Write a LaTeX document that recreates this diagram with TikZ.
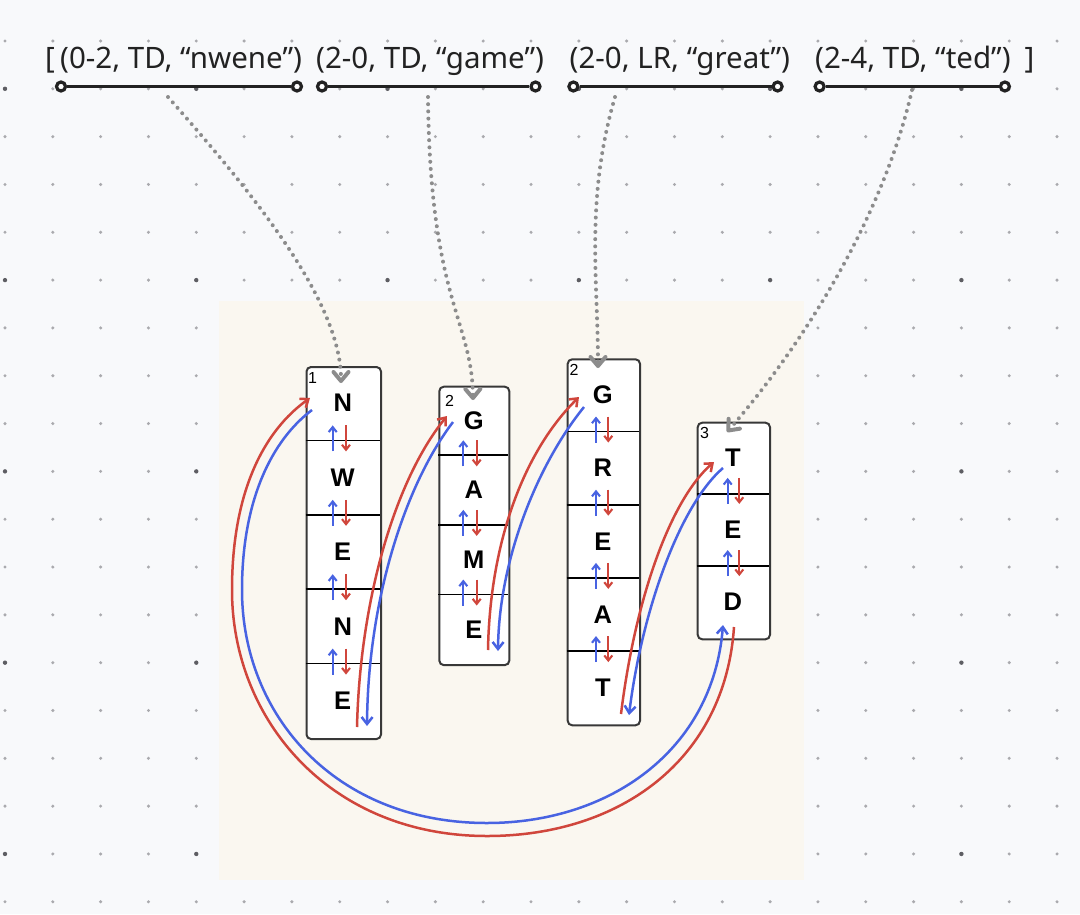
\documentclass[tikz,border=0pt]{standalone}
\usepackage{fontspec}
\setmainfont{Liberation Sans}
\newfontfamily\topfont{Noto Sans}
\usetikzlibrary{arrows.meta}
\definecolor{bgc}{HTML}{F8F9FB}
\definecolor{panelc}{HTML}{FAF7F0}
\definecolor{dotc}{HTML}{AAAAAE}
\definecolor{dotd}{HTML}{5E5E63}
\definecolor{redc}{HTML}{D0463C}
\definecolor{bluec}{HTML}{4863E2}
\definecolor{grayarr}{HTML}{8C8C8C}
\definecolor{inkc}{HTML}{222222}
\tikzset{
  toptext/.style={font=\topfont\fontsize{29.5}{29.5}\selectfont, text=inkc, inner sep=0, anchor=base west},
  endpt/.style={circle, draw=inkc, line width=3.2pt, fill=white, minimum size=9pt, inner sep=0},
  topline/.style={draw=inkc, line width=3.6pt},
  boxst/.style={draw=inkc!90, line width=2pt, fill=white, rounded corners=4.5pt, anchor=north west, inner sep=0},
  divider/.style={draw=black, line width=1.7pt},
  letter/.style={font=\fontsize{25.5}{25.5}\selectfont\bfseries, inner sep=0},
  lab/.style={font=\fontsize{16}{16}\selectfont, inner sep=0},
  smallblue/.style={draw=bluec, line width=2.1pt, -{Straight Barb[length=5pt,width=8pt]}},
  smallred/.style={draw=redc, line width=2.1pt, -{Straight Barb[length=5pt,width=8pt]}},
  redarr/.style={draw=redc, line width=2.5pt, -{Straight Barb[length=7pt,width=11pt]}},
  bluearr/.style={draw=bluec, line width=2.5pt, -{Straight Barb[length=7pt,width=11pt]}},
  dotarr/.style={draw=grayarr, line width=4pt, line cap=round, dash pattern=on 0pt off 7.2pt,
     -{Straight Barb[length=9pt,width=15pt,round]}},
}
\begin{document}
\begin{tikzpicture}[x=1pt,y=-1pt]
\useasboundingbox (0,0) rectangle (1080,914);
\fill[bgc] (0,0) rectangle (1080,914);
% dot grid
\foreach \i in {0,...,22}{
  \foreach \j in {0,...,18}{
    \pgfmathtruncatemacro\dk{and(mod(\i,4)==0,mod(\j,4)==1)}
    \ifnum\dk=1
      \fill[dotd] (5+47.82*\i,41+47.82*\j) circle[radius=2.2pt];
    \else
      \fill[dotc] (5+47.82*\i,41+47.82*\j) circle[radius=1.7pt];
    \fi
  }
}
% panel
\fill[panelc] (219,301) rectangle (804,880);

% top text
\node[toptext] (lb) at (45,68) {[};
\node[toptext] (t1) at (60,68) {(0-2, TD, “nwene”)};
\node[toptext] (t2) at (316,68) {(2-0, TD, “game”)};
\node[toptext] (t3) at (569.5,68) {(2-0, LR, “great”)};
\node[toptext] (t4) at (815,68) {(2-4, TD, “ted”)};
\node[toptext] (rb) at (1024.5,68) {]};

% top lines
\node[endpt] (l1a) at (61,86.5) {};
\node[endpt] (l1b) at (297,86.5) {};
\node[endpt] (l2a) at (322,86.5) {};
\node[endpt] (l2b) at (535.5,86.5) {};
\node[endpt] (l3a) at (573.4,86.5) {};
\node[endpt] (l3b) at (777.6,86.5) {};
\node[endpt] (l4a) at (819.6,86.5) {};
\node[endpt] (l4b) at (1004.9,86.5) {};
\draw[topline] (l1a) -- (l1b);
\draw[topline] (l2a) -- (l2b);
\draw[topline] (l3a) -- (l3b);
\draw[topline] (l4a) -- (l4b);

% boxes
\node[boxst, minimum width=74.5pt, minimum height=372pt] (b1) at (305.5,366) {};
\node[boxst, minimum width=70pt, minimum height=278.4pt] (b2) at (438.3,385.7) {};
\node[boxst, minimum width=72.3pt, minimum height=366pt] (b3) at (566.7,358.3) {};
\node[boxst, minimum width=72.3pt, minimum height=216.6pt] (b4) at (696.7,421.7) {};

% dividers
\foreach \d in {440.4,514.8,589.2,663.6}{\draw[divider] (305.5,\d) -- (380,\d);}
\foreach \d in {455.3,524.9,594.5}{\draw[divider] (438.3,\d) -- (508.3,\d);}
\foreach \d in {431.5,504.7,577.9,651.1}{\draw[divider] (566.7,\d) -- (639,\d);}
\foreach \d in {493.9,566.1}{\draw[divider] (696.7,\d) -- (769,\d);}

% labels
\node[lab] (lab1) at (312.5,377.5) {1};
\node[lab] (lab2) at (449.5,401) {2};
\node[lab] (lab3) at (574,369.5) {2};
\node[lab] (lab4) at (704.5,433) {3};

% letters
\node[letter] (n1a) at (342.75,403.2) {N};
\node[letter] (n1b) at (342.75,477.6) {W};
\node[letter] (n1c) at (342.75,552) {E};
\node[letter] (n1d) at (342.75,626.4) {N};
\node[letter] (n1e) at (342.75,700.8) {E};
\node[letter] (n2a) at (473.8,420.5) {G};
\node[letter] (n2b) at (473.8,490.1) {A};
\node[letter] (n2c) at (473.8,559.7) {M};
\node[letter] (n2d) at (473.8,629.3) {E};
\node[letter] (n3a) at (602.85,394.9) {G};
\node[letter] (n3b) at (602.85,468.1) {R};
\node[letter] (n3c) at (602.85,541.3) {E};
\node[letter] (n3d) at (602.85,614.5) {A};
\node[letter] (n3e) at (602.85,687.7) {T};
\node[letter] (n4a) at (732.85,457.8) {T};
\node[letter] (n4b) at (732.85,530) {E};
\node[letter] (n4c) at (732.85,602.2) {D};

% small up/down arrows
\foreach \d in {440.4,514.8,589.2,663.6}{
  \draw[smallblue] (332.7,\d+11) -- (332.7,\d-15);
  \draw[smallred] (346,\d-15) -- (346,\d+11);}
\foreach \d in {455.3,524.9,594.5}{
  \draw[smallblue] (463.3,\d+11) -- (463.3,\d-15);
  \draw[smallred] (476.7,\d-15) -- (476.7,\d+11);}
\foreach \d in {431.5,504.7,577.9,651.1}{
  \draw[smallblue] (596,\d+11) -- (596,\d-15);
  \draw[smallred] (608.3,\d-15) -- (608.3,\d+11);}
\foreach \d in {493.9,566.1}{
  \draw[smallblue] (727.7,\d+10) -- (727.7,\d-16);
  \draw[smallred] (739.3,\d-16) -- (739.3,\d+10);}

% link coordinates
\coordinate (ra1) at (357,727);   \coordinate (ra2) at (447,416);
\coordinate (ba1) at (453,422);   \coordinate (ba2) at (367,726);
\coordinate (rb1) at (488,650);   \coordinate (rb2) at (579,397);
\coordinate (bb1) at (584,407);   \coordinate (bb2) at (498,651);
\coordinate (rc1) at (621,714);   \coordinate (rc2) at (714,462);
\coordinate (bc1) at (723,468);   \coordinate (bc2) at (629,715);
\coordinate (rd1) at (734,627);   \coordinate (rd2) at (310,398);
\coordinate (bd1) at (312,410);   \coordinate (bd2) at (723,625);

\draw[redarr]  (ra1) .. controls (360,600) and (395,480) .. (ra2);
\draw[bluearr] (ba1) .. controls (405,485) and (368,600) .. (ba2);
\draw[redarr]  (rb1) .. controls (490,540) and (525,450) .. (rb2);
\draw[bluearr] (bb1) .. controls (537,465) and (499,560) .. (bb2);
\draw[redarr]  (rc1) .. controls (635,600) and (670,500) .. (rc2);
\draw[bluearr] (bc1) .. controls (680,505) and (642,610) .. (bc2);
\draw[redarr]  (rd1) .. controls (725,760) and (620,836) .. (487,836)
               .. controls (330,836) and (232,720) .. (232,590)
               .. controls (232,490) and (265,430) .. (rd2);
\draw[bluearr] (bd1) .. controls (272,440) and (242,500) .. (242,590)
               .. controls (242,715) and (335,823) .. (487,823)
               .. controls (610,823) and (713,750) .. (bd2);

% dotted arrows
\coordinate (d1) at (168,97);
\coordinate (d2) at (428,97);
\coordinate (d3) at (615,97);
\coordinate (d4) at (912,90);
\coordinate (e1) at (341,383);
\coordinate (e2) at (473,400);
\coordinate (e3) at (598,368);
\coordinate (e4) at (727,432);
\draw[dotarr] (d1) .. controls (250,190) and (341,300) .. (e1);
\draw[dotarr] (d2) .. controls (430,300) and (472,320) .. (e2);
\draw[dotarr] (d3) .. controls (585,200) and (598,280) .. (e3);
\draw[dotarr] (d4) .. controls (880,230) and (790,360) .. (e4);
\end{tikzpicture}
\end{document}
